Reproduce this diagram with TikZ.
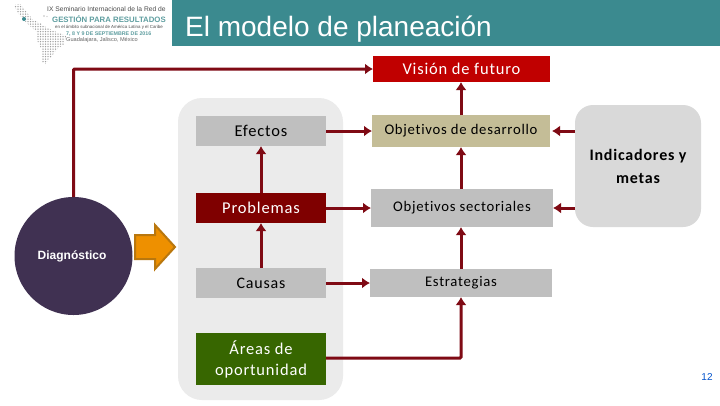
\documentclass[tikz,border=0pt]{standalone}
\usepackage{fontspec}
\setmainfont[LetterSpace=5,Ligatures=NoCommon]{Carlito}
\newfontfamily\arialf{Liberation Sans}
\usetikzlibrary{arrows.meta}
\definecolor{teal1}{HTML}{3B8A8F}
\definecolor{arrowred}{HTML}{7F0A14}
\definecolor{panel}{HTML}{EBEBEB}
\definecolor{greybox}{HTML}{BFBFBF}
\definecolor{tan1}{HTML}{C4BD97}
\definecolor{maroon1}{HTML}{7F0000}
\definecolor{red1}{HTML}{C00000}
\definecolor{green1}{HTML}{376600}
\definecolor{plum1}{HTML}{403152}
\definecolor{ind}{HTML}{D9D9D9}
\definecolor{orange1}{HTML}{EE9000}
\definecolor{orange2}{HTML}{B9770E}
\definecolor{logot}{HTML}{5F9EA0}
\tikzset{
  x=1pt,y=-1pt,
  boxs/.style={inner sep=0pt,outer sep=0pt,align=center,font=\fontsize{15}{19}\selectfont},
  conn/.style={draw=arrowred,line width=3pt,-{Latex[length=8pt,width=11pt]},rounded corners=1pt},
  logotxt/.style={inner sep=0pt,anchor=west,font=\arialf\fontsize{6.7}{8}\selectfont},
}
\begin{document}
\begin{tikzpicture}
\useasboundingbox (0,0) rectangle (720,405);
\fill[white] (0,0) rectangle (720,405);
% title band
\fill[teal1] (172,0) rectangle (720,46);
\node[anchor=base west,inner sep=0pt,text=white,font=\arialf\fontsize{28}{30}\selectfont] (title) at (185,36) {El modelo de planeación};
% logo map
\begin{scope}
\clip (14,5) -- (20,4) -- (27,12) -- (33,20) -- (40,23) -- (44,26) -- (52,30) -- (66,36) -- (64,44) -- (56,50) -- (52,56) -- (48,60) -- (46,64) -- (42,62) -- (42,50) -- (37,40) -- (37,32) -- (30,26) -- (24,20) -- (18,13) -- cycle;
\foreach \yy in {4,6.5,...,64}
  \foreach \xx in {13,15.5,...,66}
    \fill[gray!75] (\xx,\yy) circle (0.75);
\end{scope}
\fill[gray!50] (44,16) circle (0.8) (47,16.5) circle (0.7);
\fill[teal1] (24,19) circle (2);
% logo text
\node[logotxt,text=black!70] (l1) at (47,9) {IX Seminario Internacional de la Red de};
\node[logotxt,text=logot,font=\arialf\bfseries\fontsize{7.8}{8}\selectfont] (l2) at (52,19) {GESTIÓN PARA RESULTADOS};
\node[logotxt,text=black!70,font=\arialf\fontsize{4.4}{5}\selectfont] (l3) at (55,27) {en el ámbito subnacional de América Latina y el Caribe};
\node[logotxt,text=logot,font=\arialf\bfseries\fontsize{5.3}{6}\selectfont] (l4) at (66,34) {7, 8 Y 9 DE SEPTIEMBRE DE 2016};
\node[logotxt,text=black!60,font=\arialf\fontsize{5.6}{6}\selectfont] (l5) at (66,40) {Guadalajara, Jalisco, México};
% panel
\fill[panel,rounded corners=24pt] (178,98) rectangle (343,400);
% Indicators
\node[fill=ind,rounded corners=18pt,minimum width=126pt,minimum height=122pt,inner sep=0pt,outer sep=0pt,align=center,font=\bfseries\fontsize{16}{23}\selectfont] (ind) at (638,166) {Indicadores y\\metas};
% boxes
\node[boxs,fill=red1,text=white,minimum width=177pt,minimum height=26pt,font=\fontsize{16.5}{20}\selectfont] (vis) at (461.5,69) {\raisebox{-1pt}{Visión de futuro}};
\node[boxs,fill=tan1,minimum width=178pt,minimum height=32pt,font=\fontsize{14.7}{18}\selectfont] (des) at (461,131) {\raisebox{-2.5pt}{Objetivos de desarrollo}};
\node[boxs,fill=greybox,minimum width=182pt,minimum height=38pt,font=\fontsize{14.7}{18}\selectfont] (sec) at (462,208) {\raisebox{-2pt}{Objetivos sectoriales}};
\node[boxs,fill=greybox,minimum width=182pt,minimum height=28pt,font=\fontsize{14.7}{18}\selectfont] (est) at (461,283) {\raisebox{-1pt}{Estrategias}};
\node[boxs,fill=greybox,minimum width=130pt,minimum height=30pt,font=\fontsize{16.5}{20}\selectfont] (efe) at (261,131) {Efectos};
\node[boxs,fill=maroon1,text=white,minimum width=130pt,minimum height=30pt,font=\fontsize{16.5}{20}\selectfont] (pro) at (261,208) {Problemas};
\node[boxs,fill=greybox,minimum width=130pt,minimum height=30pt,font=\fontsize{16}{20}\selectfont] (cau) at (261,283) {Causas};
\node[boxs,fill=green1,text=white,minimum width=130pt,minimum height=52pt,font=\fontsize{16.5}{21}\selectfont] (are) at (261,359) {Áreas de\\oportunidad};
% circle and label
\node[circle,fill=plum1,minimum size=118pt,inner sep=0pt,outer sep=0pt] (dia) at (73.5,256) {};
\node[inner sep=0pt,text=white,font=\arialf\bfseries\fontsize{12}{14}\selectfont] (dial) at (72,256.5) {Diagnóstico};
% orange arrow
\fill[orange1,draw=orange2,line width=2pt,line join=miter] (135,235) -- (155,235) -- (155,225) -- (175,247) -- (155,269) -- (155,259) -- (135,259) -- cycle;
% connectors
\draw[conn] (dia.north) -- (73.5,69) -- (vis.west);
\draw[conn] (efe.east) -- (des.west);
\draw[conn] (pro.east) -- (sec.west);
\draw[conn] (cau.east) -- (est.west);
\draw[conn] (are.east |- 0,358) -| (est.south);
\draw[conn] (pro.north) -- (efe.south);
\draw[conn] (cau.north) -- (pro.south);
\draw[conn] (des.north) -- (des.north |- vis.south);
\draw[conn] (sec.north -| des.north) -- (des.south);
\draw[conn] (est.north) -- (est.north |- sec.south);
\draw[conn] (ind.west |- des.east) -- ([xshift=2pt]des.east);
\draw[conn] (ind.west |- sec.east) -- (sec.east);
% page number
\node[inner sep=0pt,text=blue!60!cyan!80!black,font=\arialf\fontsize{10}{12}\selectfont] (pg) at (707,377) {12};
\end{tikzpicture}
\end{document}
